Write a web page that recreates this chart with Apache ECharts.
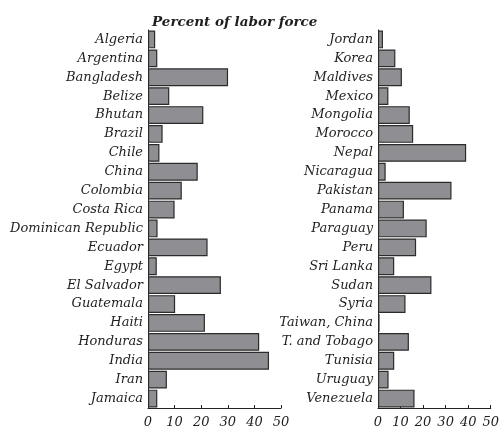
<!DOCTYPE html>
<html>
<head>
<meta charset="utf-8">
<script src="https://cdn.jsdelivr.net/npm/echarts@6/dist/echarts.min.js"></script>
<style>html,body{margin:0;padding:0;background:#fff}#c{width:502px;height:432px}</style>
</head>
<body>
<div id="c"></div>
<script>
var leftCategories = ["Algeria","Argentina","Bangladesh","Belize","Bhutan","Brazil","Chile","China","Colombia","Costa Rica","Dominican Republic","Ecuador","Egypt","El Salvador","Guatemala","Haiti","Honduras","India","Iran","Jamaica"];
var leftValues = [2.7,3.5,30.1,8.0,20.8,5.5,4.3,18.7,12.7,10.0,3.6,22.4,3.3,27.4,10.2,21.4,41.8,45.5,7.1,3.5];
var rightCategories = ["Jordan","Korea","Maldives","Mexico","Mongolia","Morocco","Nepal","Nicaragua","Pakistan","Panama","Paraguay","Peru","Sri Lanka","Sudan","Syria","Taiwan, China","T. and Tobago","Tunisia","Uruguay","Venezuela"];
var rightValues = [2.2,7.7,10.6,4.6,14.1,15.6,39.1,3.4,32.6,11.5,21.6,16.9,7.2,23.7,12.2,0.7,13.7,7.2,4.7,16.2];
var titleText = "Percent of labor force";

var serif = "DejaVu Serif";
var textColor = "#1e1e1e";
function xAxis(idx){
  return {
    gridIndex: idx, type: 'value', min: 0, max: 50, interval: 10,
    axisLine: {show: true, lineStyle: {color: '#222', width: 1}},
    axisTick: {show: true, inside: true, length: 3, lineStyle: {color: '#222'}},
    splitLine: {show: false},
    axisLabel: {color: textColor, fontFamily: serif, fontStyle: 'italic', fontSize: 13, margin: 8}
  };
}
function yAxis(idx, cats){
  return {
    gridIndex: idx, type: 'category', data: cats, inverse: true,
    axisLine: {show: true, lineStyle: {color: '#222', width: 1}},
    axisTick: {show: false},
    axisLabel: {color: textColor, fontFamily: serif, fontStyle: 'italic', fontSize: 13, margin: 5}
  };
}
var barStyle = {color: '#8f8f93', borderColor: '#2b2b2b', borderWidth: 1.2};
var chart = echarts.init(document.getElementById('c'), null, {renderer: 'canvas'});
chart.setOption({
  animation: false,
  title: {text: titleText, left: 147, top: 10,
    textStyle: {fontFamily: serif, fontStyle: 'italic', fontWeight: 'bold', fontSize: 13.5, color: textColor}},
  grid: [
    {left: 148, right: 221, top: 30, bottom: 24},
    {left: 378, right: 11, top: 30, bottom: 24}
  ],
  xAxis: [xAxis(0), xAxis(1)],
  yAxis: [yAxis(0, leftCategories), yAxis(1, rightCategories)],
  series: [
    {type: 'bar', xAxisIndex: 0, yAxisIndex: 0, data: leftValues, barCategoryGap: '6%', itemStyle: barStyle},
    {type: 'bar', xAxisIndex: 1, yAxisIndex: 1, data: rightValues, barCategoryGap: '6%', itemStyle: barStyle}
  ]
});
</script>
</body>
</html>
